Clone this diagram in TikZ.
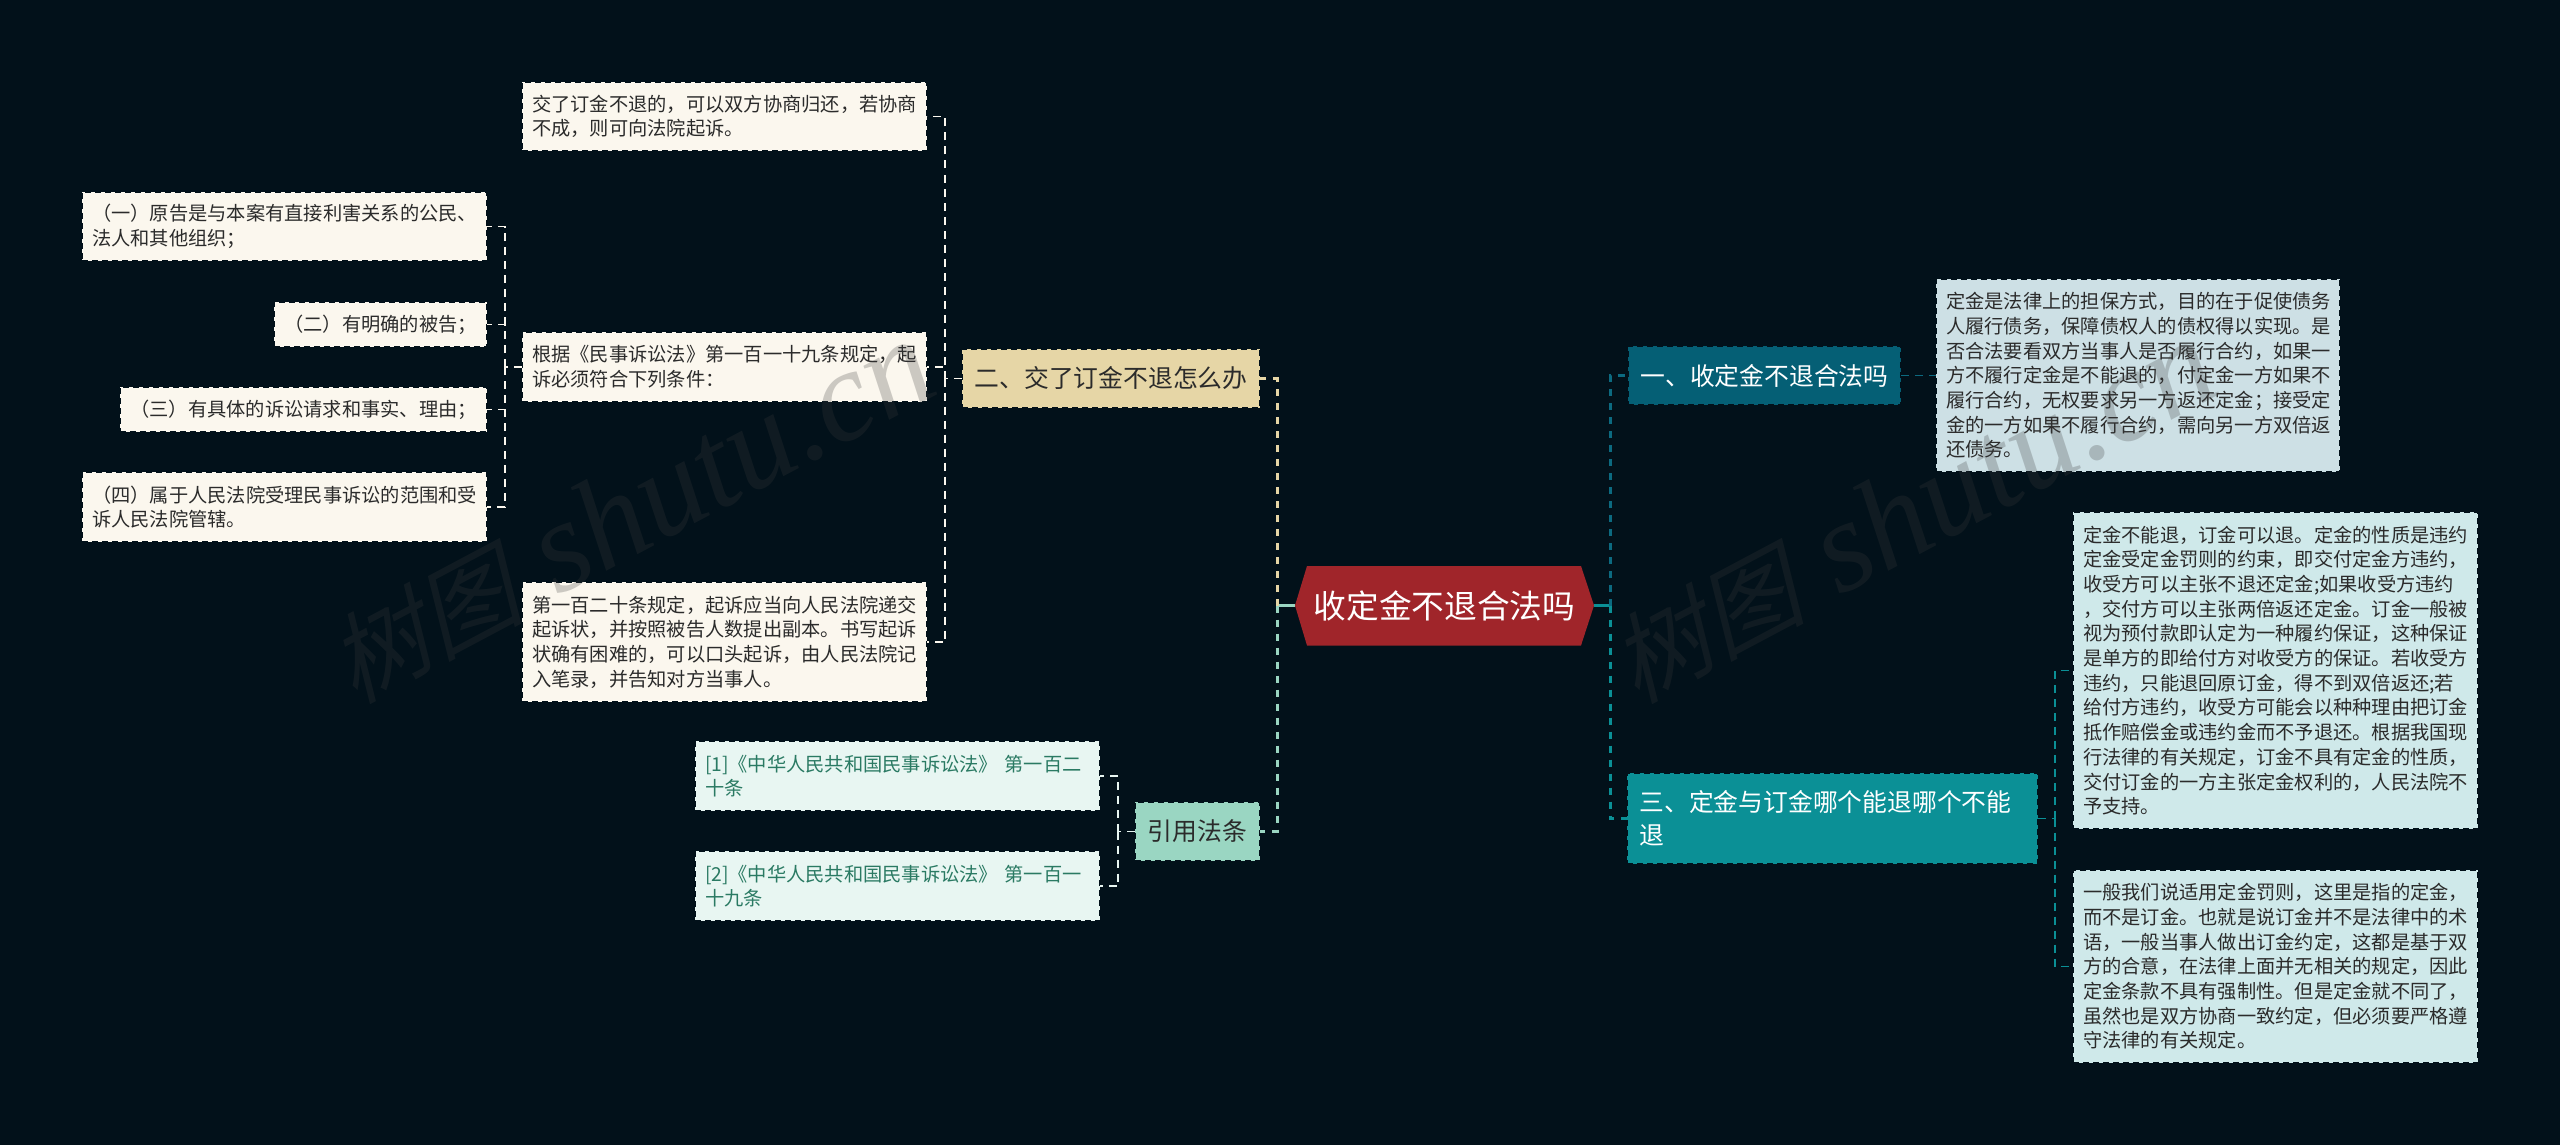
\documentclass[tikz,border=0pt]{standalone}
\usepackage{fontspec}
\setmainfont{Noto Sans CJK SC}
\newfontfamily\wmcjk[FakeSlant=0.25]{Noto Sans CJK SC}
\newfontfamily\wmlat{Liberation Serif}
\definecolor{bgc}{HTML}{02111A}
\definecolor{cream}{HTML}{FBF7EE}
\definecolor{sand}{HTML}{E6D6A6}
\definecolor{mint}{HTML}{9AD6C2}
\definecolor{mintpale}{HTML}{E8F6F2}
\definecolor{mintink}{HTML}{2A7A63}
\definecolor{petrol}{HTML}{055F75}
\definecolor{petrolpale}{HTML}{CDE0E5}
\definecolor{petrolline}{HTML}{0C6A80}
\definecolor{teal}{HTML}{0B9096}
\definecolor{tealpale}{HTML}{CFE9EA}
\definecolor{rootred}{HTML}{A0252A}
\definecolor{inkc}{HTML}{2B2B2B}
\definecolor{wmgray}{HTML}{3C3C3C}
\tikzset{
  boxbase/.style={rectangle,anchor=north west,outer sep=0pt,inner ysep=0pt,draw=bgc,line width=1.6pt,dash pattern=on 6pt off 4pt},
  leaf/.style={boxbase,inner xsep=10pt,text=inkc,align=left,font=\fontsize{19.25}{24.7}\selectfont},
  creamleaf/.style={leaf,fill=cream},
  citeleaf/.style={leaf,fill=mintpale,text=mintink},
  petrolleaf/.style={leaf,fill=petrolpale},
  tealleaf/.style={leaf,fill=tealpale},
  branch/.style={boxbase,inner xsep=12.5pt,align=left,font=\fontsize{24.8}{33}\selectfont},
  trunk/.style={line width=3pt,dash pattern=on 7pt off 7pt},
  twig/.style={line width=1.7pt,dash pattern=on 8pt off 6pt},
  watermark/.style={rotate=28,text=wmgray,opacity=0.25,inner sep=0pt}
}
\newcommand{\wmtext}{{\fontsize{98}{98}\selectfont\wmcjk 树图}\hspace{34pt}{\fontsize{130}{130}\selectfont\wmlat\itshape shutu.cn}}
\begin{document}
\begin{tikzpicture}[x=1pt,y=-1pt]
\useasboundingbox (0,0) rectangle (2560,1145);
\fill[bgc] (0,0) rectangle (2560,1145);

% root
\fill[rootred] (1295,605.5) -- (1307,566) -- (1581,566) -- (1594,605.5) -- (1581,645.5) -- (1307,645.5) -- cycle;
\node[inner sep=0pt,outer sep=0pt,minimum width=299pt,minimum height=80pt,text=white,font=\fontsize{32.7}{36}\selectfont] (root) at (1444.5,605.5) {收定金不退合法吗};

% branches
\node[branch,fill=sand,text=inkc,minimum width=298pt,minimum height=59pt] (b2) at (962,349) {二、交了订金不退怎么办};
\node[branch,fill=mint,text=inkc,minimum width=125pt,minimum height=59pt] (bcite) at (1135,802) {引用法条};
\node[branch,fill=petrol,text=white,minimum width=273pt,minimum height=59pt] (b1) at (1628,346) {一、收定金不退合法吗};
\node[branch,fill=teal,text=white,text width=386pt,minimum height=91pt] (b3) at (1627,773) {三、定金与订金哪个能退哪个不能\\退};

% left leaves
\node[creamleaf,text width=385pt,minimum height=69pt] (pa) at (522,82) {交了订金不退的，可以双方协商归还，若协商\\不成，则可向法院起诉。};
\node[creamleaf,text width=385pt,minimum height=70pt] (pb) at (522,332) {根据《民事诉讼法》第一百一十九条规定，起\\诉必须符合下列条件：};
\node[creamleaf,text width=385pt,minimum height=120pt] (pc) at (522,582) {第一百二十条规定，起诉应当向人民法院递交\\起诉状，并按照被告人数提出副本。书写起诉\\状确有困难的，可以口头起诉，由人民法院记\\入笔录，并告知对方当事人。};
\node[creamleaf,text width=385pt,minimum height=69pt] (c1) at (82,192) {（一）原告是与本案有直接利害关系的公民、\\法人和其他组织；};
\node[creamleaf,minimum width=213pt,minimum height=45pt] (c2) at (274,302) {（二）有明确的被告；};
\node[creamleaf,minimum width=367pt,minimum height=45pt] (c3) at (120,387) {（三）有具体的诉讼请求和事实、理由；};
\node[creamleaf,text width=385pt,minimum height=70pt] (c4) at (82,472) {（四）属于人民法院受理民事诉讼的范围和受\\诉人民法院管辖。};

% citations
\node[citeleaf,text width=385pt,minimum height=70pt] (r1) at (695,741) {[1]《中华人民共和国民事诉讼法》 第一百二\\十条};
\node[citeleaf,text width=385pt,minimum height=70pt] (r2) at (695,851) {[2]《中华人民共和国民事诉讼法》 第一百一\\十九条};

% right leaves
\node[petrolleaf,text width=384pt,minimum height=193pt] (q1) at (1936,279) {定金是法律上的担保方式，目的在于促使债务\\人履行债务，保障债权人的债权得以实现。是\\否合法要看双方当事人是否履行合约，如果一\\方不履行定金是不能退的，付定金一方如果不\\履行合约，无权要求另一方返还定金；接受定\\金的一方如果不履行合约，需向另一方双倍返\\还债务。};
\node[tealleaf,text width=385pt,minimum height=317pt] (q2) at (2073,512) {定金不能退，订金可以退。定金的性质是违约\\定金受定金罚则的约束，即交付定金方违约，\\收受方可以主张不退还定金;如果收受方违约\\，交付方可以主张两倍返还定金。订金一般被\\视为预付款即认定为一种履约保证，这种保证\\是单方的即给付方对收受方的保证。若收受方\\违约，只能退回原订金，得不到双倍返还;若\\给付方违约，收受方可能会以种种理由把订金\\抵作赔偿金或违约金而不予退还。根据我国现\\行法律的有关规定，订金不具有定金的性质，\\交付订金的一方主张定金权利的，人民法院不\\予支持。};
\node[tealleaf,text width=385pt,minimum height=193pt] (q3) at (2073,870) {一般我们说适用定金罚则，这里是指的定金，\\而不是订金。也就是说订金并不是法律中的术\\语，一般当事人做出订金约定，这都是基于双\\方的合意，在法律上面并无相关的规定，因此\\定金条款不具有强制性。但是定金就不同了，\\虽然也是双方协商一致约定，但必须要严格遵\\守法律的有关规定。};

% junctions
\coordinate (jl) at (1277,605.5);
\coordinate (jr) at (1610,605.5);
\coordinate (j2) at (945,378.5);
\coordinate (jb) at (505,367);
\coordinate (jc) at (1118,831.5);
\coordinate (j3) at (2055,818.5);

% connectors
\draw[mint,line width=3pt] (root.west) -- (jl);
\draw[teal,line width=3pt] (root.east) -- (jr);
\draw[trunk,sand] (jl) |- (b2.east);
\draw[trunk,mint] (jl) |- (bcite.east);
\draw[trunk,petrolline] (jr) |- (b1.west);
\draw[trunk,teal] (jr) |- (b3.west);
\draw[twig,cream] (b2.west) -- (j2);
\draw[twig,cream] (j2) |- (pa.east);
\draw[twig,cream] (j2) |- (pb.east);
\draw[twig,cream] (j2) |- (pc.east);
\draw[twig,cream] (pb.west) -- (jb);
\draw[twig,cream] (jb) |- (c1.east);
\draw[twig,cream] (jb) |- (c2.east);
\draw[twig,cream] (jb) |- (c3.east);
\draw[twig,cream] (jb) |- (c4.east);
\draw[twig,mintpale] (bcite.west) -- (jc);
\draw[twig,mintpale] (jc) |- (r1.east);
\draw[twig,mintpale] (jc) |- (r2.east);
\draw[twig,petrolline] (b1.east) -- (q1.west);
\draw[twig,teal] (b3.east) -- (j3);
\draw[twig,teal] (j3) |- (q2.west);
\draw[twig,teal] (j3) |- (q3.west);

% watermarks
\node[watermark,anchor=south west] (wm1) at (358,712) {\wmtext};
\node[watermark,anchor=south west] (wm2) at (1640,712) {\wmtext};
\end{tikzpicture}
\end{document}
